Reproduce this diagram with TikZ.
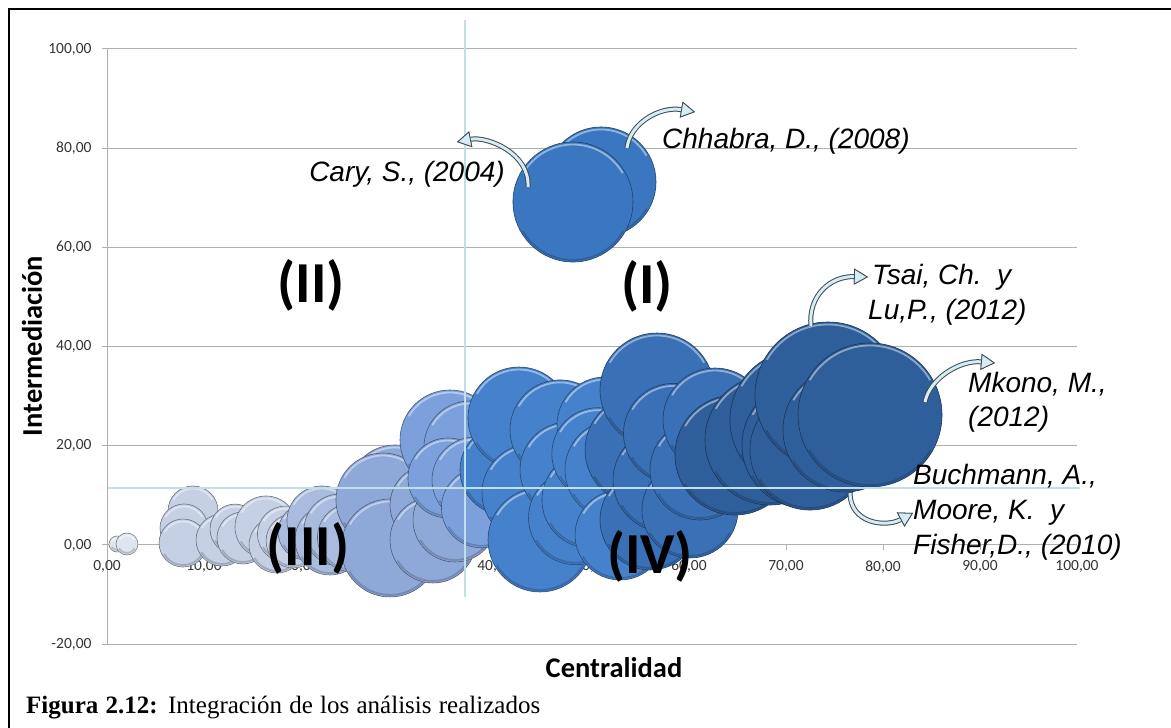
\documentclass[tikz,border=0pt]{standalone}
\usepackage{fontspec}
\setmainfont{Liberation Serif}
\newfontfamily\calibrifont{Carlito}
\newfontfamily\arialfont{Liberation Sans}
\usetikzlibrary{arrows.meta}

\definecolor{bubA}{HTML}{DFE5EF}
\definecolor{bubB}{HTML}{C5D0E5}
\definecolor{bubC}{HTML}{A9BCE0}
\definecolor{bubD}{HTML}{8EA8D7}
\definecolor{bubDD}{HTML}{7BA0DC}
\definecolor{bubE}{HTML}{4682CC}
\definecolor{bubF}{HTML}{3A70B6}
\definecolor{bubG}{HTML}{2F5F9B}
\definecolor{bubH}{HTML}{3B77C1}
\definecolor{gridgray}{HTML}{B0B0B0}
\definecolor{quadcyan}{HTML}{BFE0E8}
\definecolor{arrfill}{HTML}{D4ECF2}
\definecolor{arrline}{HTML}{3C4B55}

\begin{document}
\begin{tikzpicture}[x=1pt,y=1pt,
    gridline/.style={draw=gridgray, line width=1pt},
    quadline/.style={draw=quadcyan, line width=1.6pt},
    ticklbl/.style={font=\calibrifont\fontsize{15.5}{18}\selectfont, text=black!80, inner sep=0pt},
    axtitle/.style={font=\calibrifont\bfseries\fontsize{28.5}{34}\selectfont, inner sep=0pt},
    quadlbl/.style={font=\calibrifont\bfseries\fontsize{58}{66}\selectfont, inner sep=0pt},
    auth/.style={font=\arialfont\itshape\fontsize{28}{34}\selectfont, inner sep=0pt, anchor=base west},
    curvarr/.style={draw=arrfill, line width=3pt,
        preaction={draw=arrline, line width=5pt},
        -{Triangle[length=14pt, width=16pt, line width=.8pt, color=arrline, fill=arrfill]}}]
    \useasboundingbox (0,0) rectangle (1171,728);

    % frame of the page
    \draw[line width=2pt] (9,0) -- (9,719) -- (1171,719);

    \begin{scope}[shift={(107,183)}, x=9.7pt, y=4.96pt]
        % grid and axes
        \foreach \yv in {-20,20,40,60,80,100}
            \draw[gridline] (0,\yv) -- (100,\yv);
        \draw[gridline] (0,-20) -- (0,100);
        \draw[gridline] (0,0) -- (100,0);
        \foreach \yv in {-20,0,...,100}
            \draw[gridline] (0,\yv) -- ++(-5pt,0)
                node[ticklbl, anchor=east, xshift=-10pt] (ylab\yv) {\yv,00};
        \foreach \xv in {0,10,...,100}
            \draw[gridline] (\xv,0) -- ++(0,-5pt)
                node[ticklbl, anchor=north, yshift=-10pt] (xlab\xv) {\xv,00};

        % bubbles: x / y / radius / colour
        \foreach \bx/\by/\br/\bc in {
            1.03/0.20/8/bubA, 2.06/0.20/11/bubA,
            8.87/6.85/25/bubB, 7.94/3.43/24/bubB, 7.84/0.40/24/bubB,
            11.86/1.01/26/bubB, 13.20/3.20/25/bubB, 14.02/1.42/26/bubB, 16.39/3.63/31/bubB,
            17.53/0.00/28/bubB, 18.40/2.20/28/bubB, 19.18/0.81/27/bubB,
            20.52/2.62/28/bubC, 22.16/4.84/35/bubC, 22.99/1.01/35/bubC, 24.02/3.02/36/bubC,
            25.20/1.50/34/bubC,
            29.69/10.69/47/bubD, 28.45/9.07/47/bubD, 29.18/-0.60/49/bubD,
            33.30/8.06/40/bubD, 33.61/1.01/43/bubD, 35.88/5.04/42/bubD,
            35.36/21.17/50/bubDD, 37.42/19.76/46/bubDD, 35.15/13.51/40/bubDD, 37.94/13.10/43/bubDD,
            38.60/7.50/40/bubDD,
            41.03/15.12/45/bubE, 42.47/25.60/51/bubE, 43.71/10.48/49/bubE, 44.64/1.01/52/bubE,
            46.70/23.20/50/bubE, 47.53/15.12/48/bubE, 48.30/5.50/47/bubE,
            49.79/9.07/48/bubE, 51.34/24.19/48/bubE, 50.60/18.40/46/bubE, 52.37/15.12/50/bubE,
            52.89/2.02/45/bubE,
            54.95/19.15/55/bubF, 55.98/5.04/50/bubF, 56.70/31.25/57/bubF, 57.53/13.10/52/bubF,
            58.40/22.50/50/bubF,
            60.10/7.06/48/bubF, 61.13/15.12/50/bubF, 62.68/25.20/52/bubF,
            64.74/18.15/60/bubG, 68.35/21.17/65/bubG, 71.44/25.20/70/bubG, 71.96/20.16/63/bubG,
            72.47/19.15/60/bubG, 74.33/30.24/73/bubG, 76.08/23.19/62/bubG, 78.66/26.21/72/bubG,
            50.93/73.19/55/bubH, 48.04/69.15/60/bubH}{
            \fill[fill=\bc] (\bx,\by) circle[radius=\br*1pt];
            \draw[white, opacity=.45, line width=1.8pt] (\bx,\by) ++(30:\br*1pt-2.5pt)
                arc[start angle=30, end angle=150, radius=\br*1pt-2.5pt];
            \draw[black, opacity=.18, line width=1.8pt] (\bx,\by) ++(210:\br*1pt-2pt)
                arc[start angle=210, end angle=330, radius=\br*1pt-2pt];
            \draw[draw=\bc!55!black, line width=.6pt] (\bx,\by) circle[radius=\br*1pt];
        }

        % quadrant lines
        \draw[quadline] (36.9,105.8) -- (36.9,-10.5);
        \draw[quadline] (0.1,11.5) -- (100.3,11.5);
    \end{scope}

    % axis titles
    \node[axtitle, rotate=90] (ytitle) at (32,382) {Intermediación};
    \node[axtitle] (xtitle) at (614,60) {Centralidad};

    % quadrants
    \node[quadlbl] (q2) at (311,443) {(II)};
    \node[quadlbl] (q1) at (647,442) {(I)};
    \node[quadlbl] (q3) at (308,180) {(III)};
    \node[quadlbl] (q4) at (650,172) {(IV)};

    % authors
    \node[auth] (chhabra) at (662,579) {Chhabra, D., (2008)};
    \node[auth, anchor=base east] (cary) at (505,546) {Cary, S., (2004)};
    \node[auth] (tsai) at (872,443) {Tsai, Ch.\ \ y};
    \node[auth] (lu) at ([xshift=-4pt,yshift=-35pt]tsai.base west) {Lu,P., (2012)};
    \node[auth] (mkono) at (968,335) {Mkono, M.,};
    \node[auth] (mkonoyr) at ([yshift=-34pt]mkono.base west) {(2012)};
    \node[auth] (buch) at (913,243) {Buchmann, A.,};
    \node[auth] (moore) at ([yshift=-35pt]buch.base west) {Moore, K.\ \ y};
    \node[auth] (fisher) at ([yshift=-35pt]moore.base west) {Fisher,D., (2010)};

    % curved arrows
    \coordinate (caryT) at (528,541);
    \coordinate (caryH) at (457,586);
    \coordinate (chhT) at (627,580);
    \coordinate (chhH) at (695,616);
    \coordinate (tsaiT) at (811,402);
    \coordinate (tsaiH) at (868,451);
    \coordinate (mkT) at (925,326);
    \coordinate (mkH) at (995,365);
    \coordinate (buchT) at (850,235);
    \coordinate (buchH) at (913,215);
    \draw[curvarr] (caryT) .. controls +(2,34) and +(30,6) .. (caryH);
    \draw[curvarr] (chhT) .. controls +(3,25) and +(-35,6) .. (chhH);
    \draw[curvarr] (tsaiT) .. controls +(-3,30) and +(-38,1) .. (tsaiH);
    \draw[curvarr] (mkT) .. controls +(5,24) and +(-35,3) .. (mkH);
    \draw[curvarr] (buchT) .. controls +(0,-30) and +(-28,-15) .. (buchH);

    % caption
    \node[anchor=base west, inner sep=0pt] (caption) at (26,14)
        {\fontsize{25}{30}\selectfont\makebox[514pt][s]{\textbf{Figura 2.12:} Integración de los análisis realizados}};
\end{tikzpicture}
\end{document}
